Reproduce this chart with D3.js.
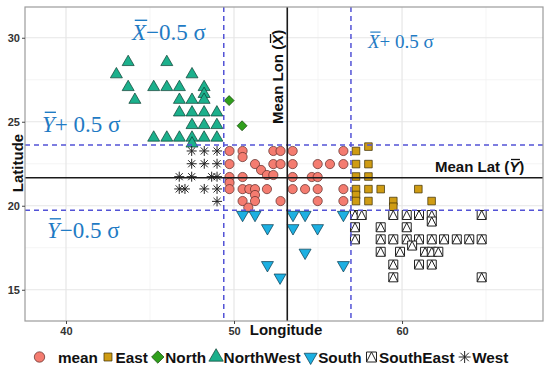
<!DOCTYPE html>
<html><head><meta charset="utf-8">
<script src="https://cdn.jsdelivr.net/npm/d3@7"></script>
<style>body{margin:0;background:#fff}svg{display:block}</style>
</head><body><svg id="c" width="550" height="371"></svg>
<script>
// ---------- data ----------
const xTicks = [40, 50, 60];
const yTicks = [15, 20, 25, 30];
const xMinor = [45, 55, 65];
const yMinor = [17.5, 22.5, 27.5];
const meanLon = 53.17, meanLat = 21.67;
const lonBand = [49.39, 56.96];
const latBand = [19.73, 23.61];
const categories = ["mean", "East", "North", "NorthWest", "South", "SouthEast", "West"];

const meanPts = [
  [49.73,23.26],[50.51,23.26],[52.34,23.26],[52.77,23.26],[53.49,23.26],[56.51,23.26],
  [50.51,22.9],
  [49.73,22.48],[51.25,22.48],[52.34,22.48],[52.77,22.48],[53.49,22.48],[54.98,22.48],[55.71,22.48],[56.51,22.48],
  [51.61,22.13],
  [51.96,21.83],[52.34,21.83],
  [49.73,21.71],[50.51,21.71],[53.49,21.71],[54.63,21.71],[54.98,21.71],
  [49.73,21.37],
  [49.73,20.99],[50.51,20.99],[50.91,20.99],[51.25,20.99],[51.96,20.99],[53.49,20.99],[54.23,20.99],[54.98,20.99],[56.51,20.99],
  [51.25,20.64],
  [50.51,20.28],[51.25,20.28],[52.77,20.28],[54.98,20.28],[56.51,20.28],
  [50.85,19.89]
];
const eastPts = [
  [58.0,23.52],[57.26,23.26],[57.26,22.48],[58.0,22.48],[57.26,21.74],[58.0,21.74],
  [57.26,20.99],[58.0,20.99],[58.73,20.99],[60.97,20.99],[57.26,20.64],
  [57.26,20.28],[58.0,20.28],[59.48,20.28],[59.48,19.94],[61.76,20.28]
];
const northPts = [[49.71,26.26],[50.48,24.76]];
const northWestPts = [
  [43.7,28.55],[46.0,28.55],
  [43.0,27.82],[47.5,27.82],
  [43.7,27.06],[45.22,27.06],[46.0,27.06],[46.75,27.06],[48.22,27.06],
  [48.22,26.65],
  [44.1,26.3],[46.75,26.3],[47.5,26.3],[48.22,26.3],
  [46.75,25.55],[47.5,25.55],[48.22,25.55],[48.98,25.55],
  [47.5,24.8],[48.22,24.8],[48.98,24.8],
  [45.22,24.05],[46.0,24.05],[46.75,24.05],[47.5,24.05],[48.22,24.05],[48.98,24.05],
  [47.5,23.7]
];
const southPts = [
  [50.51,19.46],[51.25,19.46],[53.51,19.46],[54.23,19.46],[56.51,19.46],
  [51.99,18.67],[53.51,18.67],[54.97,18.67],
  [54.23,17.21],
  [51.99,16.47],[56.51,16.47],
  [52.74,15.73]
];
const southEastPts = [
  [57.2,19.45],[57.6,19.45],[59.48,19.45],[60.28,19.45],[61.01,19.45],[61.77,19.45],[64.74,19.45],
  [61.77,19.06],
  [57.2,18.72],[58.73,18.72],[60.28,18.72],
  [57.2,18.0],[58.73,18.0],[59.48,18.0],[60.28,18.0],[61.01,18.0],[61.77,18.0],[62.5,18.0],[63.26,18.0],[64.0,18.0],[64.74,18.0],
  [60.6,17.63],
  [58.73,17.26],[59.88,17.26],[61.37,17.26],[61.77,17.26],[62.16,17.26],
  [59.48,16.5],[61.01,16.5],[61.77,16.5],
  [59.48,15.74],[64.74,15.74]
];
const westPts = [
  [47.48,23.26],[48.23,23.26],[48.99,23.26],
  [47.48,22.5],[48.23,22.5],[48.99,22.5],
  [46.74,21.73],[47.48,21.73],[48.67,21.73],[48.99,21.73],
  [46.74,21.0],[47.08,21.0],[48.23,21.0],[48.99,21.0],
  [48.99,20.26]
];

// ---------- setup ----------
const svg = d3.select("#c");
const L = 25, R = 543, T = 7, B = 321;
const x = d3.scaleLinear().domain([37.56, 68.39]).range([L, R]);
const y = d3.scaleLinear().domain([13.14, 31.83]).range([B, T]);
const SANS = "'Liberation Sans', Arial, sans-serif";
const SERIF = "'Liberation Serif', 'Times New Roman', serif";
const BLUE = "#1f7bc4";

// grid
const grid = svg.append("g");
grid.selectAll(".vmi").data(xMinor).join("line")
  .attr("x1", d => x(d)).attr("x2", d => x(d)).attr("y1", T).attr("y2", B)
  .attr("stroke", "#f3f3f3").attr("stroke-width", 0.8);
grid.selectAll(".hmi").data(yMinor).join("line")
  .attr("y1", d => y(d)).attr("y2", d => y(d)).attr("x1", L).attr("x2", R)
  .attr("stroke", "#f3f3f3").attr("stroke-width", 0.8);
grid.selectAll(".vma").data(xTicks).join("line")
  .attr("x1", d => x(d)).attr("x2", d => x(d)).attr("y1", T).attr("y2", B)
  .attr("stroke", "#e6e6e6").attr("stroke-width", 1.2);
grid.selectAll(".hma").data(yTicks).join("line")
  .attr("y1", d => y(d)).attr("y2", d => y(d)).attr("x1", L).attr("x2", R)
  .attr("stroke", "#e6e6e6").attr("stroke-width", 1.2);

// markers
function shapePath(shape, s) {
  const p = d3.path();
  if (shape === "circle") { p.arc(0, 0, s, 0, 2 * Math.PI); p.closePath(); }
  else if (shape === "square") { p.rect(-s, -s, 2 * s, 2 * s); }
  else if (shape === "diamond") { p.moveTo(0, -s); p.lineTo(s, 0); p.lineTo(0, s); p.lineTo(-s, 0); p.closePath(); }
  else if (shape === "triUp") { const w = s, r = s * 2 / Math.sqrt(3); p.moveTo(0, -r); p.lineTo(w, r / 2); p.lineTo(-w, r / 2); p.closePath(); }
  else if (shape === "triDown") { const w = s, r = s * 2 / Math.sqrt(3); p.moveTo(0, r); p.lineTo(w, -r / 2); p.lineTo(-w, -r / 2); p.closePath(); }
  else if (shape === "sqTri") { p.rect(-s, -s, 2 * s, 2 * s); p.moveTo(-s, s); p.lineTo(0, -s); p.lineTo(s, s); }
  else if (shape === "star") {
    const a = s, b = s / Math.SQRT2;
    p.moveTo(-a, 0); p.lineTo(a, 0); p.moveTo(0, -a); p.lineTo(0, a);
    p.moveTo(-b, -b); p.lineTo(b, b); p.moveTo(-b, b); p.lineTo(b, -b);
  }
  return p.toString();
}
const styles = {
  mean:      { shape: "circle",  s: 4.6, fill: "#f47c70", stroke: "#5a2a26", sw: 0.7, leg: 5.2 },
  East:      { shape: "square",  s: 3.8, fill: "#cf9c14", stroke: "#3a2c05", sw: 0.7, leg: 4.0 },
  North:     { shape: "diamond", s: 5.0, fill: "#2f9f1c", stroke: "#12400a", sw: 0.7, leg: 6.2 },
  NorthWest: { shape: "triUp",   s: 6.0, fill: "#1cb08c", stroke: "#0a3d30", sw: 0.7, leg: 7.2 },
  South:     { shape: "triDown", s: 6.0, fill: "#1db0e2", stroke: "#083a4d", sw: 0.7, leg: 6.5 },
  SouthEast: { shape: "sqTri",   s: 4.5, fill: "#ffffff", stroke: "#222", sw: 1.0, leg: 5.0 },
  West:      { shape: "star",    s: 5.0, fill: "none",    stroke: "#222", sw: 1.0, leg: 6.0 }
};
const seriesData = {
  mean: meanPts, East: eastPts, North: northPts, NorthWest: northWestPts,
  South: southPts, SouthEast: southEastPts, West: westPts
};
const drawOrder = ["NorthWest", "North", "West", "mean", "East", "South", "SouthEast"];
const pts = svg.append("g");
drawOrder.forEach(k => {
  const st = styles[k];
  pts.append("g").selectAll("path").data(seriesData[k]).join("path")
    .attr("transform", d => `translate(${x(d[0])},${y(d[1])})`)
    .attr("d", shapePath(st.shape, st.s))
    .attr("fill", st.fill).attr("stroke", st.stroke).attr("stroke-width", st.sw);
});

// reference lines
const lines = svg.append("g");
lines.selectAll(".dv").data(lonBand).join("line")
  .attr("x1", d => x(d)).attr("x2", d => x(d)).attr("y1", T).attr("y2", B)
  .attr("stroke", "#5353d6").attr("stroke-width", 1.5).attr("stroke-dasharray", "5,4");
lines.selectAll(".dh").data(latBand).join("line")
  .attr("y1", d => y(d)).attr("y2", d => y(d)).attr("x1", L).attr("x2", R)
  .attr("stroke", "#5353d6").attr("stroke-width", 1.5).attr("stroke-dasharray", "5,4");
lines.append("line").attr("x1", x(meanLon)).attr("x2", x(meanLon)).attr("y1", T).attr("y2", B)
  .attr("stroke", "#1a1a1a").attr("stroke-width", 1.6);
lines.append("line").attr("y1", y(meanLat)).attr("y2", y(meanLat)).attr("x1", L).attr("x2", R)
  .attr("stroke", "#1a1a1a").attr("stroke-width", 1.6);

// panel border
svg.append("rect").attr("x", L).attr("y", T).attr("width", R - L).attr("height", B - T)
  .attr("fill", "none").attr("stroke", "#9c9c9c").attr("stroke-width", 1.2);

// axes
const xAxis = svg.append("g").attr("transform", `translate(0,${B})`)
  .call(d3.axisBottom(x).tickValues(xTicks).tickSize(3).tickPadding(3).tickFormat(d3.format("d")));
const yAxis = svg.append("g").attr("transform", `translate(${L},0)`)
  .call(d3.axisLeft(y).tickValues(yTicks).tickSize(3).tickPadding(2).tickFormat(d3.format("d")));
[xAxis, yAxis].forEach(a => {
  a.select(".domain").remove();
  a.selectAll(".tick line").attr("stroke", "#444").attr("stroke-width", 1);
  a.selectAll(".tick text").attr("font-family", SANS).attr("font-weight", "bold")
    .attr("font-size", 11).attr("fill", "#333");
});

// axis titles
svg.append("text").attr("x", (L + R) / 2 + 2).attr("y", 335)
  .attr("text-anchor", "middle").attr("font-family", SANS).attr("font-weight", "bold")
  .attr("font-size", 15).attr("fill", "#111").text("Longitude");
svg.append("text").attr("transform", `translate(23,${(T + B) / 2 - 1}) rotate(-90)`)
  .attr("text-anchor", "middle").attr("font-family", SANS).attr("font-weight", "bold")
  .attr("font-size", 15).attr("fill", "#111").text("Latitude");

// labels with overlined variables
function barLabel(parent, tx, ty, rot, parts, opts) {
  const g = parent.append("g").attr("transform", `translate(${tx},${ty}) rotate(${rot})`);
  const t = g.append("text").attr("x", 0).attr("y", 0)
    .attr("font-family", opts.family).attr("font-size", opts.size)
    .attr("font-weight", opts.weight || "normal").attr("fill", opts.color);
  let idx = 0; const bars = [];
  parts.forEach(p => {
    const sp = t.append("tspan").text(p.t);
    if (p.italic) sp.attr("font-style", "italic");
    if (p.bar) bars.push(idx);
    idx += p.t.length;
  });
  const node = t.node();
  bars.forEach(i => {
    const e = node.getExtentOfChar(i);
    g.append("line").attr("x1", e.x + opts.size * 0.12).attr("x2", e.x + e.width + opts.size * 0.05)
      .attr("y1", e.y + opts.barOff).attr("y2", e.y + opts.barOff)
      .attr("stroke", opts.color).attr("stroke-width", opts.barW);
  });
  return g;
}
const blueBig = { family: SERIF, size: 23, color: BLUE, barOff: 0.8, barW: 1.4 };
barLabel(svg, 132, 39.5, 0, [{ t: "X", italic: true, bar: true }, { t: "\u22120.5 \u03c3" }], blueBig);
barLabel(svg, 42, 131.5, 0, [{ t: "Y", italic: true, bar: true }, { t: "+ 0.5 \u03c3" }], blueBig);
barLabel(svg, 47, 238, 0, [{ t: "Y", italic: true, bar: true }, { t: "\u22120.5 \u03c3" }], blueBig);
barLabel(svg, 368, 48.3, 0, [{ t: "X", italic: true, bar: true }, { t: "+ 0.5 \u03c3" }],
  { family: SERIF, size: 19, color: BLUE, barOff: 0.8, barW: 1.2 });

const blackLab = { family: SANS, size: 15, weight: "bold", color: "#111", barOff: 1.5, barW: 1.3 };
barLabel(svg, 435, 172, 0, [{ t: "Mean Lat (" }, { t: "Y", italic: true, bar: true }, { t: ")" }], blackLab);
barLabel(svg, 283, 124, -90, [{ t: "Mean Lon (" }, { t: "X", italic: true, bar: true }, { t: ")" }], blackLab);

// legend
const leg = svg.append("g");
let cursor = 39.5;
const legY = 357;
categories.forEach((k, i) => {
  const st = styles[k];
  leg.append("path").attr("transform", `translate(${cursor},${legY})`)
    .attr("d", shapePath(st.shape, st.leg))
    .attr("fill", st.fill).attr("stroke", st.stroke).attr("stroke-width", st.sw);
  const tx = cursor + (i === 0 ? 18.5 : 7.5);
  const t = leg.append("text").attr("x", tx).attr("y", legY + 5.5)
    .attr("font-family", SANS).attr("font-weight", "bold").attr("font-size", 15.3)
    .attr("fill", "#111").text(k);
  cursor = tx + t.node().getComputedTextLength() + 10;
});
</script></body></html>
